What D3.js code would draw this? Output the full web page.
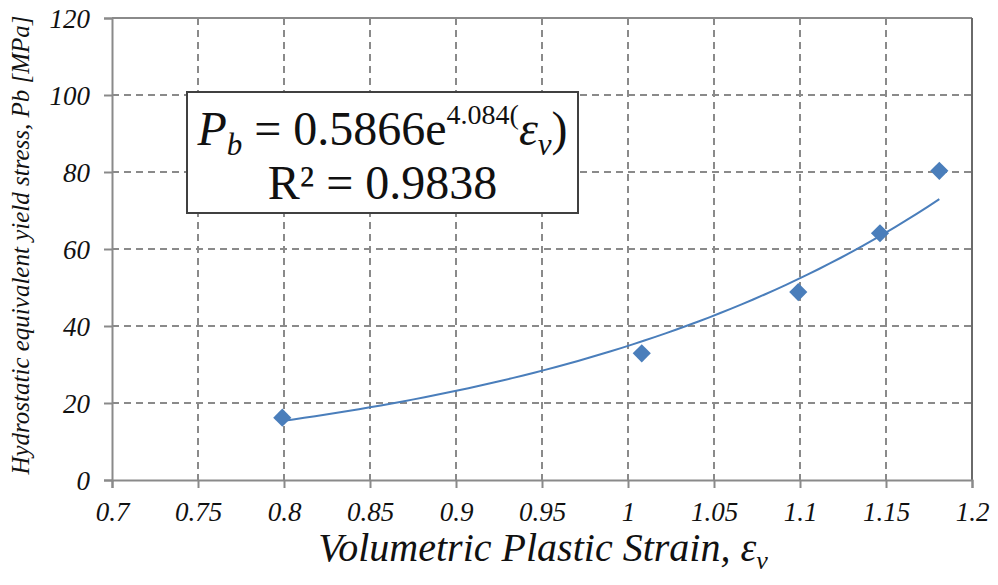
<!DOCTYPE html>
<html>
<head>
<meta charset="utf-8">
<script src="https://cdn.jsdelivr.net/npm/d3@7"></script>
<style>
  body { margin: 0; background: #fff; }
  svg text { font-family: "Liberation Serif", "DejaVu Serif", serif; }
</style>
</head>
<body>
<div id="chart"></div>
<script>
// measured points
var strain = [0.799, 1.008, 1.099, 1.1465, 1.181];
var stress = [16.2, 32.9, 48.8, 64.1, 80.3];
var xTicks = [0.7, 0.75, 0.8, 0.85, 0.9, 0.95, 1, 1.05, 1.1, 1.15, 1.2];
var yTicks = [0, 20, 40, 60, 80, 100, 120];
var xTickLabels = ["0.7", "0.75", "0.8", "0.85", "0.9", "0.95", "1", "1.05", "1.1", "1.15", "1.2"];
// exponential fit shown in the box
var fitA = 0.5866, fitB = 4.084;

var SERIF = "'Liberation Serif', 'DejaVu Serif', serif";
var W = 998, H = 585;
var margin = {top: 18, right: 26, bottom: 105, left: 112},
    width = W - margin.left - margin.right,
    height = H - margin.top - margin.bottom;

var svg = d3.select("#chart").append("svg")
    .attr("width", W).attr("height", H)
  .append("g")
    .attr("transform", "translate(" + margin.left + "," + margin.top + ")");

var x = d3.scaleLinear().domain([0.7, 1.2]).range([0, width]);
var y = d3.scaleLinear().domain([0, 120]).range([height, 0]);

// dashed grid
svg.append("g").selectAll("line").data(xTicks.slice(1, -1)).enter().append("line")
  .attr("x1", d => x(d)).attr("x2", d => x(d))
  .attr("y1", 0).attr("y2", height)
  .attr("stroke", "#8a8a8a").attr("stroke-width", 2).attr("stroke-dasharray", "7,5");
svg.append("g").selectAll("line").data(yTicks.slice(1, -1)).enter().append("line")
  .attr("x1", 0).attr("x2", width)
  .attr("y1", d => y(d)).attr("y2", d => y(d))
  .attr("stroke", "#8a8a8a").attr("stroke-width", 2).attr("stroke-dasharray", "7,5");

// frame
svg.append("line").attr("x1", 0).attr("x2", width).attr("y1", 0).attr("y2", 0)
  .attr("stroke", "#8a8a8a").attr("stroke-width", 2);
svg.append("line").attr("x1", width).attr("x2", width).attr("y1", 0).attr("y2", height)
  .attr("stroke", "#6a6a6a").attr("stroke-width", 2);

// axes
var xAxis = svg.append("g")
  .attr("transform", "translate(0," + height + ")")
  .call(d3.axisBottom(x).tickValues(xTicks).tickFormat((d, i) => xTickLabels[i]).tickSize(8).tickPadding(14));
var yAxis = svg.append("g")
  .call(d3.axisLeft(y).tickValues(yTicks).tickSize(8).tickPadding(14));

[xAxis, yAxis].forEach(function(a) {
  a.attr("font-family", null);
  a.select(".domain").attr("stroke", "#8a8a8a").attr("stroke-width", 2);
  a.selectAll(".tick line").attr("stroke", "#8a8a8a").attr("stroke-width", 2);
  a.selectAll(".tick text")
    .attr("fill", "#111")
    .style("font-family", SERIF)
    .style("font-style", "italic")
    .style("font-size", "27px");
});
yAxis.selectAll(".tick text").attr("dy", "0.35em");

// trendline from fitted equation over the data range
var curve = d3.range(0, 61).map(function(i) {
  var xv = strain[0] + (strain[strain.length - 1] - strain[0]) * i / 60;
  return [xv, fitA * Math.exp(fitB * xv)];
});
svg.append("path").datum(curve)
  .attr("fill", "none").attr("stroke", "#4a7ebb").attr("stroke-width", 2)
  .attr("d", d3.line().x(d => x(d[0])).y(d => y(d[1])));

// markers
svg.selectAll(".pt").data(strain).enter().append("path")
  .attr("class", "pt")
  .attr("transform", (d, i) => "translate(" + x(d) + "," + y(stress[i]) + ")")
  .attr("d", d3.symbol().type(d3.symbolDiamond2).size(210))
  .attr("fill", "#4a7ebb");

// equation box
var bx = 187 - margin.left, by = 92 - margin.top;
svg.append("rect").attr("x", bx).attr("y", by).attr("width", 391).attr("height", 121)
  .attr("fill", "#fff").attr("stroke", "#404040").attr("stroke-width", 2);

var eq = svg.append("text").attr("x", bx + 195.5).attr("y", 145 - margin.top)
  .attr("text-anchor", "middle").style("font-family", SERIF).style("font-size", "48px").attr("fill", "#111");
eq.append("tspan").style("font-style", "italic").text("P");
eq.append("tspan").style("font-style", "italic").style("font-size", "31px").attr("dy", 10).text("b");
eq.append("tspan").attr("dy", -10).text(" = 0.5866e");
eq.append("tspan").style("font-size", "28px").attr("dy", -21).text("4.084(");
eq.append("tspan").style("font-style", "italic").attr("dy", 21).text("ε");
eq.append("tspan").style("font-style", "italic").style("font-size", "31px").attr("dy", 10).text("v");
eq.append("tspan").attr("dy", -10).text(")");

svg.append("text").attr("x", bx + 195.5).attr("y", 199 - margin.top)
  .attr("text-anchor", "middle").style("font-family", SERIF).style("font-size", "48px").attr("fill", "#111")
  .text("R² = 0.9838");

// axis titles
var xt = svg.append("text").attr("x", 543 - margin.left).attr("y", 561 - margin.top)
  .attr("text-anchor", "middle").style("font-family", SERIF)
  .style("font-size", "40px").style("font-style", "italic").attr("fill", "#111");
xt.append("tspan").text("Volumetric Plastic Strain, ε");
xt.append("tspan").style("font-size", "26px").attr("dy", 8).text("v");

svg.append("text")
  .attr("transform", "translate(" + (29 - margin.left) + "," + (245 - margin.top) + ") rotate(-90)")
  .attr("text-anchor", "middle").style("font-family", SERIF)
  .style("font-size", "25px").style("font-style", "italic").attr("fill", "#111")
  .text("Hydrostatic equivalent yield stress, Pb [MPa]");
</script>
</body>
</html>
